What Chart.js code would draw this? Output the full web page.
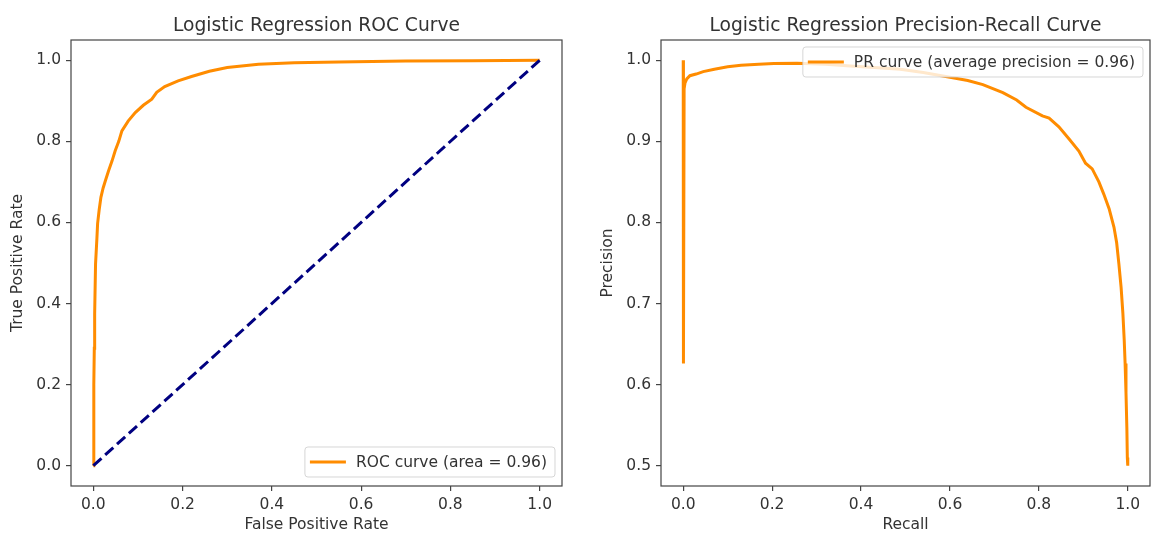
<!DOCTYPE html>
<html>
<head>
<meta charset="utf-8">
<script src="https://cdn.jsdelivr.net/npm/chart.js@4.4.1/dist/chart.umd.min.js"></script>
<style>
  html, body { margin: 0; padding: 0; background: #fff; }
  #wrap { position: relative; width: 1151px; height: 540px; }
  canvas { position: absolute; top: 0; }
  #roc { left: 0; }
  #pr { left: 575px; }
</style>
</head>
<body>
<div id="wrap">
  <canvas id="roc" width="575" height="540"></canvas>
  <canvas id="pr" width="576" height="540"></canvas>
</div>
<script>
// ROC curve
const rocFpr = [0, 0.0008, 0.0014, 0.0022, 0.003, 0.005, 0.008, 0.0096, 0.013, 0.017, 0.022, 0.027, 0.034,
  0.042, 0.049, 0.057, 0.064, 0.078, 0.094, 0.112, 0.131, 0.142, 0.16, 0.19, 0.22, 0.26, 0.30, 0.37,
  0.45, 0.55, 0.7, 0.85, 1.0];
const rocTpr = [0, 0.1, 0.2, 0.29, 0.375, 0.498, 0.56, 0.597, 0.63, 0.662, 0.685, 0.703, 0.727,
  0.752, 0.777, 0.80, 0.826, 0.85, 0.871, 0.889, 0.904, 0.921, 0.935, 0.949, 0.96, 0.973, 0.982, 0.99,
  0.994, 0.996, 0.998, 0.999, 1.0];
const chanceX = [0, 1];
const chanceY = [0, 1];

// Precision-recall curve
const prRecall = [0, 0.0005, 0.002, 0.004, 0.008, 0.015, 0.029, 0.045, 0.07, 0.1, 0.13, 0.17, 0.204,
  0.256, 0.32, 0.376, 0.43, 0.488, 0.54, 0.6, 0.64, 0.674, 0.719, 0.75, 0.771, 0.808, 0.823, 0.845,
  0.868, 0.89, 0.905, 0.92, 0.935, 0.946, 0.958, 0.969, 0.975, 0.98, 0.985, 0.989, 0.992, 0.994,
  0.996, 0.998, 0.999, 1.0];
const prPrecision = [1.0, 0.626, 0.965, 0.972, 0.977, 0.981, 0.983, 0.986, 0.989, 0.992, 0.994, 0.995,
  0.996, 0.9963, 0.995, 0.993, 0.991, 0.989, 0.985, 0.979, 0.975, 0.970, 0.960, 0.951, 0.942, 0.9315,
  0.9287, 0.918, 0.903, 0.888, 0.873, 0.866, 0.85, 0.835, 0.817, 0.794, 0.775, 0.749, 0.72, 0.688,
  0.655, 0.626, 0.59, 0.545, 0.51, 0.5];

const unitTicks = [0, 0.2, 0.4, 0.6, 0.8, 1.0];
const unitTickLabels = ['0.0', '0.2', '0.4', '0.6', '0.8', '1.0'];
const precTicks = [0.5, 0.6, 0.7, 0.8, 0.9, 1.0];
const precTickLabels = ['0.5', '0.6', '0.7', '0.8', '0.9', '1.0'];

const FONT = "'DejaVu Sans', sans-serif";
const TEXT = '#333';
const SPINE = '#444';
const ORANGE = '#ff8c00';
const NAVY = '#000080';

const toPoints = (xs, ys) => xs.map((x, i) => ({ x, y: ys[i] }));

// matplotlib-like frame, title and in-axes legend
const mplFrame = {
  id: 'mplFrame',
  afterDraw(chart, args, opts) {
    const { ctx, chartArea: a } = chart;
    ctx.save();
    ctx.strokeStyle = SPINE;
    ctx.lineWidth = 1.2;
    ctx.strokeRect(a.left, a.top, a.right - a.left, a.bottom - a.top);

    ctx.fillStyle = TEXT;
    ctx.font = `18.7px ${FONT}`;
    ctx.textAlign = 'center';
    ctx.textBaseline = 'alphabetic';
    ctx.fillText(opts.title, (a.left + a.right) / 2, a.top - 9.5);

    const ds = chart.data.datasets.find((d) => d.label);
    ctx.font = `15.5px ${FONT}`;
    const tw = ctx.measureText(ds.label).width;
    const w = 51 + tw + 8, h = 30;
    const x = a.right - 7 - w;
    const y = opts.legendAt === 'lower right' ? a.bottom - 9 - h : a.top + 7;
    ctx.beginPath();
    ctx.roundRect(x, y, w, h, 3);
    ctx.fillStyle = 'rgba(255,255,255,0.8)';
    ctx.fill();
    ctx.strokeStyle = 'rgba(204,204,204,0.8)';
    ctx.lineWidth = 1;
    ctx.stroke();
    ctx.beginPath();
    ctx.moveTo(x + 5, y + h / 2);
    ctx.lineTo(x + 41, y + h / 2);
    ctx.strokeStyle = ds.borderColor;
    ctx.lineWidth = 3;
    ctx.stroke();
    ctx.fillStyle = TEXT;
    ctx.textAlign = 'left';
    ctx.textBaseline = 'middle';
    ctx.fillText(ds.label, x + 51, y + h / 2 + 1);
    ctx.restore();
  },
};

function axis(min, max, ticks, labels, title, titlePad, fit) {
  return {
    type: 'linear',
    min,
    max,
    afterBuildTicks: (s) => { s.ticks = ticks.map((v) => ({ value: v })); },
    afterFit: fit,
    ticks: {
      callback: (v, i) => labels[i],
      font: { family: FONT, size: 15.5 },
      color: TEXT,
      padding: 5,
      maxRotation: 0,
      autoSkip: false,
    },
    grid: { drawOnChartArea: false, drawTicks: true, tickLength: 5, color: SPINE, lineWidth: 1.2 },
    border: { display: false },
    title: { display: true, text: title, font: { family: FONT, size: 15.5 }, color: TEXT, padding: titlePad },
  };
}

function makeChart(id, datasets, scales, padRight, frameOpts) {
  return new Chart(document.getElementById(id), {
    type: 'scatter',
    data: { datasets },
    options: {
      responsive: false,
      animation: false,
      layout: { padding: { top: 40, right: padRight, bottom: 0, left: 0 } },
      plugins: { legend: { display: false }, tooltip: { enabled: false }, mplFrame: frameOpts },
      scales,
    },
    plugins: [mplFrame],
  });
}

makeChart('roc', [
  {
    label: 'ROC curve (area = 0.96)',
    data: toPoints(rocFpr, rocTpr),
    showLine: true, pointRadius: 0, borderColor: ORANGE, borderWidth: 3, order: 1,
  },
  {
    data: toPoints(chanceX, chanceY),
    showLine: true, pointRadius: 0, borderColor: NAVY, borderWidth: 3, borderDash: [11, 5], order: 0,
  },
], {
  x: axis(-0.05, 1.05, unitTicks, unitTickLabels, 'False Positive Rate', { top: 0, bottom: 6 },
    (s) => { s.height = 54; }),
  y: axis(-0.05, 1.05, unitTicks, unitTickLabels, 'True Positive Rate', { top: 9, bottom: 0 },
    (s) => { s.width = 71; }),
}, 13, { title: 'Logistic Regression ROC Curve', legendAt: 'lower right' });

makeChart('pr', [
  {
    label: 'PR curve (average precision = 0.96)',
    data: toPoints(prRecall, prPrecision),
    showLine: true, pointRadius: 0, borderColor: ORANGE, borderWidth: 3,
  },
], {
  x: axis(-0.05, 1.05, unitTicks, unitTickLabels, 'Recall', { top: 0, bottom: 6 },
    (s) => { s.height = 54; }),
  y: axis(0.475, 1.025, precTicks, precTickLabels, 'Precision', { top: 24, bottom: 0 },
    (s) => { s.width = 86; }),
}, 1, { title: 'Logistic Regression Precision-Recall Curve', legendAt: 'upper right' });
</script>
</body>
</html>
